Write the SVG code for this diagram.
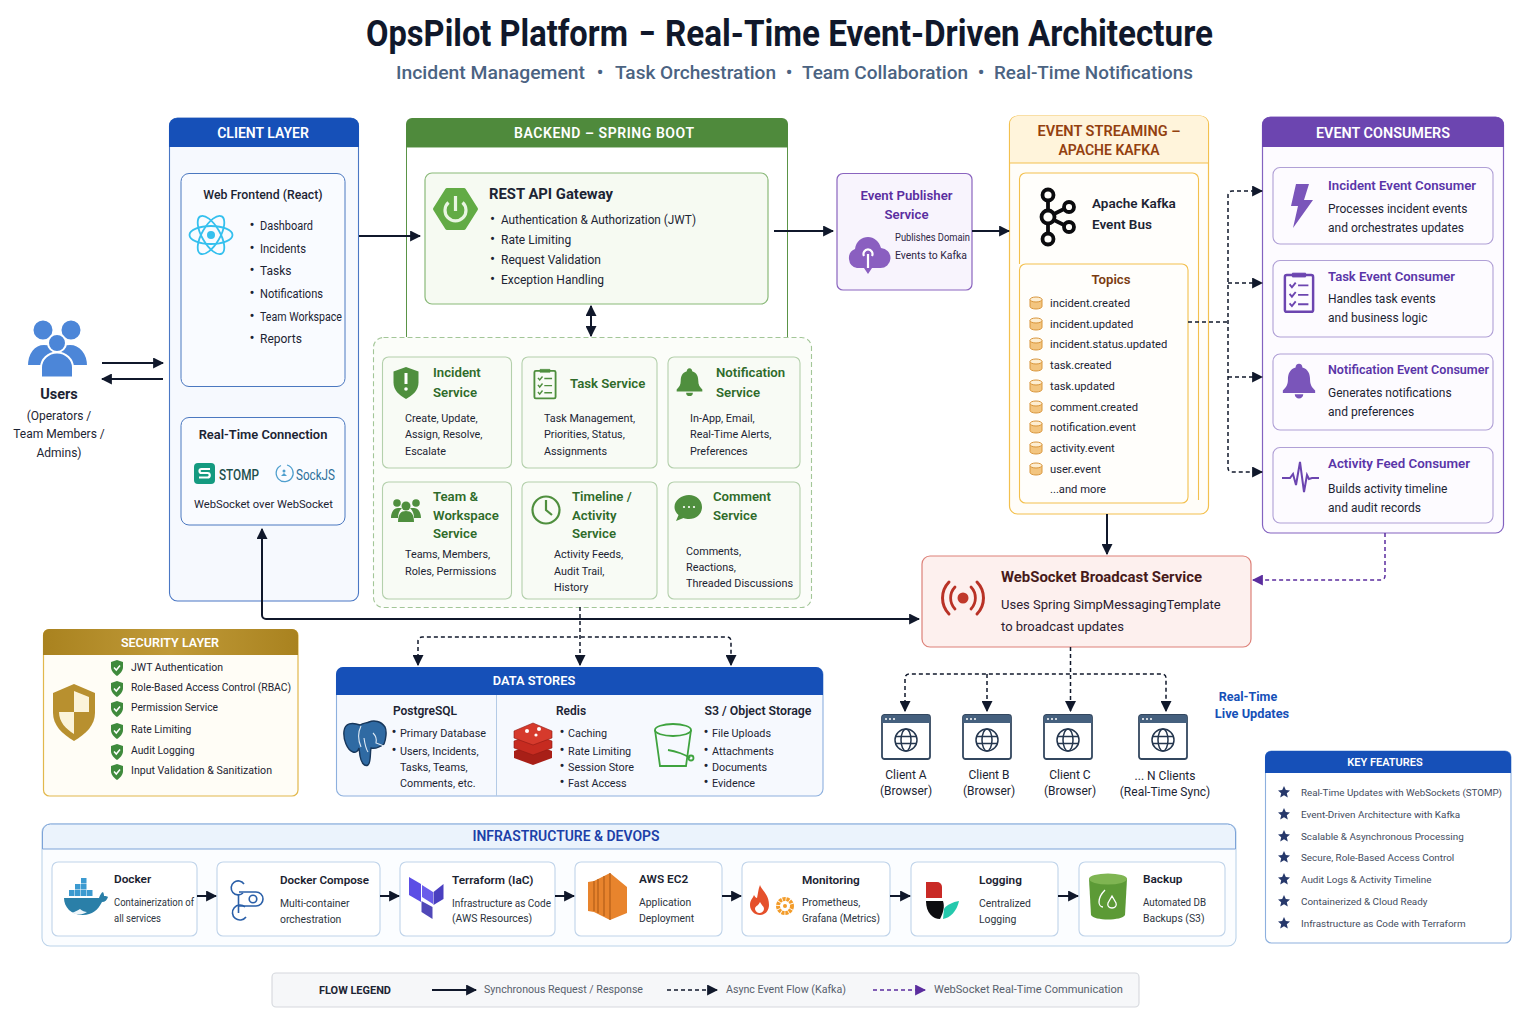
<svg xmlns="http://www.w3.org/2000/svg" xmlns:xlink="http://www.w3.org/1999/xlink" width="1536" height="1024" viewBox="0 0 1536 1024">
<style>
text{font-family:Roboto,"Liberation Sans",sans-serif;fill:#1c2433}
.hd{fill:#fff;font-weight:600;text-anchor:middle}
.c{text-anchor:middle}
.b{font-weight:700}
.m{font-weight:500}
.bu{font-size:15px}
.s12{font-size:12px}.s115{font-size:11.200px}.s11{font-size:10.800px}.s105{font-size:10.300px}
.g{fill:#2f6b2a;font-weight:600;font-size:13.200px}
.card{fill:#f8fbf5;stroke:#b4d0ac;stroke-width:1.100}
.pc{fill:#fdfbff;stroke:#b0a0d6;stroke-width:1.100}
.pt{fill:#5a35a8;font-weight:600;font-size:13.200px}
.ic{fill:#fff;stroke:#c0d4ea;stroke-width:1.100}
.it{font-weight:600;font-size:11.800px;fill:#1a2230}
.id{font-size:10.400px;fill:#2c3440}
.kf{font-size:9.900px;fill:#3f4b5e}
.line{fill:none;stroke:#10182b;stroke-width:2}
.dash{fill:none;stroke:#10182b;stroke-width:1.500;stroke-dasharray:4 3}
.pdash{fill:none;stroke:#5b2d9e;stroke-width:1.500;stroke-dasharray:4 3}
</style>
<defs>
<marker id="a" viewBox="0 0 10 10" refX="9" refY="5" markerUnits="userSpaceOnUse" markerWidth="11" markerHeight="11" orient="auto-start-reverse"><path d="M0 0L10 5L0 10z" fill="#10182b"/></marker>
<marker id="p" viewBox="0 0 10 10" refX="9" refY="5" markerUnits="userSpaceOnUse" markerWidth="11" markerHeight="11" orient="auto-start-reverse"><path d="M0 0L10 5L0 10z" fill="#5b2d9e"/></marker>
<linearGradient id="gold" x1="0" x2="1" y1="0" y2="0"><stop offset="0" stop-color="#a9821f"/><stop offset=".5" stop-color="#c09a38"/><stop offset="1" stop-color="#a9821f"/></linearGradient>
<symbol id="bell" viewBox="-20 -22 40 44" overflow="visible"><path fill="currentColor" d="M0-21c2.500 0 4 2 4 4.500 7 2 9 8 9 14 0 6 2 9 6 13v3h-38v-3c4-4 6-7 6-13 0-6 2-12 9-14 0-2.500 1.500-4.500 4-4.500zM-5 15h10a5 5 0 0 1-10 0z"/></symbol>
<symbol id="clip" viewBox="-17 -22 34 44" overflow="visible"><g fill="none" stroke="currentColor"><rect x="-15" y="-18" width="30" height="39" rx="2" stroke-width="2.600"/><path d="M-7-20h14v4h-14z" fill="currentColor" stroke-width="1"/><path stroke-width="2" d="M-10-8l2.500 3 4-5M-10 2l2.500 3 4-5M-10 12l2.500 3 4-5M-1-7h11M-1 3h11M-1 13h11"/></g></symbol>
<symbol id="cyl" viewBox="-7 -7 14 14" overflow="visible"><path d="M-6-3.500v7a6 2.500 0 0 0 12 0v-7z" fill="#f3c57f" stroke="#d9963c" stroke-width="1"/><ellipse cy="-3.500" rx="6" ry="2.500" fill="#fdeed2" stroke="#d9963c" stroke-width="1"/></symbol>
<symbol id="chk" viewBox="-7 -8 14 16" overflow="visible"><path fill="#3f8a3c" d="M0-8l6 2v5c0 4-3 7-6 9-3-2-6-5-6-9v-5z"/><path d="M-3-.500l2.300 2.500 3.700-4.500" fill="none" stroke="#fff" stroke-width="1.500"/></symbol>
<symbol id="star" viewBox="-6 -6 12 12" overflow="visible"><path fill="#26386b" d="M0-6l1.800 4 4.200.4-3.200 2.900 1 4.300L0 3.300-3.800 5.600l1-4.300L-6-1.600l4.200-.4z"/></symbol>
<symbol id="win" viewBox="0 0 50 46" overflow="visible"><rect x="1" y="1" width="48" height="44" rx="2.500" fill="#fff" stroke="#33475f" stroke-width="1.800"/><path d="M1 9V3.500A2.500 2.500 0 0 1 3.500 1h43A2.500 2.500 0 0 1 49 3.500V9z" fill="#45607e"/><g fill="#fff"><circle cx="5" cy="5" r="1"/><circle cx="9" cy="5" r="1"/><circle cx="13" cy="5" r="1"/></g><g fill="none" stroke="#24364e" stroke-width="1.500"><circle cx="25" cy="26" r="11"/><ellipse cx="25" cy="26" rx="5" ry="11"/><path d="M14.500 22.500h21M14.500 29.500h21"/></g></symbol>
</defs>
<rect width="1536" height="1024" fill="#fff"/>

<g id="title">
<text x="366" y="46" font-size="36" style="font-weight:700;fill:#10182b" textLength="262" lengthAdjust="spacingAndGlyphs">OpsPilot Platform</text>
<text x="639" y="46" font-size="36" style="font-weight:700;fill:#10182b" textLength="16" lengthAdjust="spacingAndGlyphs">–</text>
<text x="665" y="46" font-size="36" style="font-weight:700;fill:#10182b" textLength="548" lengthAdjust="spacingAndGlyphs">Real-Time Event-Driven Architecture</text>
<g font-size="19" style="font-weight:500">
<text x="396" y="79" font-size="19" style="fill:#4b6382" textLength="189" lengthAdjust="spacingAndGlyphs">Incident Management</text>
<text x="600" y="79" class="c" font-size="19" style="fill:#4b6382">•</text>
<text x="615" y="79" font-size="19" style="fill:#4b6382" textLength="161" lengthAdjust="spacingAndGlyphs">Task Orchestration</text>
<text x="789" y="79" class="c" font-size="19" style="fill:#4b6382">•</text>
<text x="802" y="79" font-size="19" style="fill:#4b6382" textLength="166" lengthAdjust="spacingAndGlyphs">Team Collaboration</text>
<text x="981" y="79" class="c" font-size="19" style="fill:#4b6382">•</text>
<text x="994" y="79" font-size="19" style="fill:#4b6382" textLength="199" lengthAdjust="spacingAndGlyphs">Real-Time Notifications</text>
</g>
</g>

<g id="users">
<g fill="#4c86d8" stroke="#fff" stroke-width="2">
<circle cx="43" cy="330" r="10.500"/><circle cx="71" cy="330" r="10.500"/>
<path d="M27 366c0-13 7-22 17-22s17 9 17 22zM53 366c0-13 7-22 17-22s18 9 18 22z"/>
<path d="M41 377.500v-10c0-8 7-15 16-15s16 7 16 15v10z"/>
<circle cx="57" cy="343" r="9"/>
</g>
<text x="59" y="399" class="c b" font-size="14.500">Users</text>
<text x="59" y="420" class="c s12">(Operators /</text>
<text x="59" y="438" class="c s12">Team Members /</text>
<text x="59" y="457" class="c s12">Admins)</text>
</g>

<g id="client-layer">
<rect x="169.500" y="118" width="189" height="483" rx="8" fill="#f6f9fe" stroke="#4a77c4" stroke-width="1.100"/>
<path d="M169 147V126a8 8 0 0 1 8-8h174a8 8 0 0 1 8 8v21z" fill="#1650b8"/>
<text x="263" y="137.500" class="hd" font-size="14">CLIENT LAYER</text>
<g id="web-frontend">
<rect x="181" y="173.500" width="164" height="213" rx="8" fill="#f9fbff" stroke="#4b78c0" stroke-width="1"/>
<text x="263" y="199" class="c m" font-size="12.300">Web Frontend (React)</text>
<g fill="none" stroke="#35c0ee" stroke-width="1.800"><ellipse cx="211" cy="235" rx="21.500" ry="9"/><ellipse cx="211" cy="235" rx="21.500" ry="9" transform="rotate(60 211 235)"/><ellipse cx="211" cy="235" rx="21.500" ry="9" transform="rotate(120 211 235)"/></g>
<circle cx="211" cy="235" r="4" fill="#35c0ee"/>
<text x="249.500" y="230" class="s12"><tspan class="bu">•</tspan><tspan x="260" textLength="53" lengthAdjust="spacingAndGlyphs">Dashboard</tspan></text>
<text x="249.500" y="253" class="s12"><tspan class="bu">•</tspan><tspan x="260" textLength="46" lengthAdjust="spacingAndGlyphs">Incidents</tspan></text>
<text x="249.500" y="275" class="s12"><tspan class="bu">•</tspan><tspan x="260">Tasks</tspan></text>
<text x="249.500" y="298" class="s12"><tspan class="bu">•</tspan><tspan x="260" textLength="63" lengthAdjust="spacingAndGlyphs">Notifications</tspan></text>
<text x="249.500" y="321" class="s12"><tspan class="bu">•</tspan><tspan x="260" textLength="82" lengthAdjust="spacingAndGlyphs">Team Workspace</tspan></text>
<text x="249.500" y="343" class="s12"><tspan class="bu">•</tspan><tspan x="260">Reports</tspan></text>
</g>
<g id="realtime-connection">
<rect x="181" y="417.500" width="164" height="107.500" rx="8" fill="#f9fbff" stroke="#4b78c0" stroke-width="1"/>
<text x="263" y="439" class="c" font-size="12.900" style="font-weight:600">Real-Time Connection</text>
<rect x="194" y="463" width="21" height="21" rx="4" fill="#149a80"/>
<path d="M210 469h-8.500a1.800 1.800 0 0 0 0 4h6a1.800 1.800 0 0 1 0 4.500H199" fill="none" stroke="#fff" stroke-width="2.200"/>
<text x="219" y="479.500" font-size="15" style="fill:#1d4f4c;font-weight:500" textLength="40" lengthAdjust="spacingAndGlyphs">STOMP</text>
<path d="M287 465a8.500 8.500 0 1 1-6 .5" fill="none" stroke="#4f9fce" stroke-width="1.300"/>
<circle cx="284" cy="471" r="1.500" fill="#4f9fce"/><path d="M281 476h6l-3-3z" fill="#4f9fce"/>
<text x="296" y="479.500" font-size="15" style="fill:#2c6f9a" textLength="39" lengthAdjust="spacingAndGlyphs">SockJS</text>
<text x="263.500" y="508" class="c s115">WebSocket over WebSocket</text>
</g>
</g>

<g id="backend">
<path d="M406.500 337V147h381v190" fill="#fff" stroke="#5a9346" stroke-width="1"/>
<path d="M406 147V124a6 6 0 0 1 6-6h370a6 6 0 0 1 6 6v23z" fill="#4f8a3c"/>
<text x="604" y="137.500" class="hd" font-size="14" textLength="180" lengthAdjust="spacing">BACKEND – SPRING BOOT</text>
<g id="rest-api-gateway">
<rect x="425" y="173" width="343" height="131" rx="7" fill="#f6faf2" stroke="#8ab979" stroke-width="1.200"/>
<path d="M447 190h17l12 19-12 19h-17l-12-19z" fill="#62ab45" stroke="#62ab45" stroke-width="4" stroke-linejoin="round"/>
<path d="M448.500 202.500a10.500 10.500 0 1 0 14 0" fill="none" stroke="#e9f5e2" stroke-width="3.200"/><path d="M455.500 196v15" stroke="#e9f5e2" stroke-width="3.200"/>
<text x="489" y="199" class="b" font-size="14.500" textLength="124" lengthAdjust="spacingAndGlyphs">REST API Gateway</text>
<text x="490" y="223.500" class="s12"><tspan class="bu">•</tspan><tspan x="501" textLength="195" lengthAdjust="spacingAndGlyphs">Authentication &amp; Authorization (JWT)</tspan></text>
<text x="490" y="243.500" class="s12"><tspan class="bu">•</tspan><tspan x="501">Rate Limiting</tspan></text>
<text x="490" y="263.500" class="s12"><tspan class="bu">•</tspan><tspan x="501">Request Validation</tspan></text>
<text x="490" y="283.500" class="s12"><tspan class="bu">•</tspan><tspan x="501">Exception Handling</tspan></text>
</g>
</g>

<g id="services">
<rect x="373.500" y="337.500" width="438" height="270" rx="10" fill="#fbfdf9" stroke="#a3c698" stroke-width="1.100" stroke-dasharray="5 3"/>
<g id="incident-service">
<rect x="382.500" y="357" width="129" height="111" rx="6" class="card"/>
<path d="M406 367l12.500 4.500v11c0 8-6 13-12.500 16.500-6.500-3.500-12.500-8.500-12.500-16.500v-11z" fill="#4f8f3e"/><path d="M406 373v11" stroke="#fff" stroke-width="3"/><circle cx="406" cy="389" r="1.800" fill="#fff"/>
<text x="433" y="377" class="g">Incident</text><text x="433" y="397" class="g">Service</text>
<text x="405" y="422" class="s11">Create, Update,</text><text x="405" y="438" class="s11">Assign, Resolve,</text><text x="405" y="455" class="s11">Escalate</text>
</g>
<g id="task-service">
<rect x="522" y="357" width="135" height="111" rx="6" class="card"/>
<use href="#clip" x="533" y="367" width="24" height="33" style="color:#4f8f3e"/>
<text x="570" y="388" class="g">Task Service</text>
<text x="544" y="422" class="s11">Task Management,</text><text x="544" y="438" class="s11">Priorities, Status,</text><text x="544" y="455" class="s11">Assignments</text>
</g>
<g id="notification-service">
<rect x="668" y="357" width="132" height="111" rx="6" class="card"/>
<use href="#bell" x="676" y="366" width="27" height="33" style="color:#4f8f3e"/>
<text x="716" y="377" class="g">Notification</text><text x="716" y="397" class="g">Service</text>
<text x="690" y="422" class="s11">In-App, Email,</text><text x="690" y="438" class="s11">Real-Time Alerts,</text><text x="690" y="455" class="s11">Preferences</text>
</g>
<g id="team-service">
<rect x="382.500" y="482" width="129" height="117" rx="6" class="card"/>
<g fill="#4f8f3e"><circle cx="397" cy="503" r="3.800"/><circle cx="416" cy="503" r="3.800"/><path d="M391 518c0-6 3-10 7-10h4c-3 3-4 6-4 10zM421 518c0-6-3-10-7-10h-4c3 3 4 6 4 10z"/><circle cx="406" cy="506" r="4.500"/><path d="M398 522c0-8 3-11 8-11s8 3 8 11z"/></g>
<text x="433" y="501" class="g">Team &amp;</text><text x="433" y="520" class="g">Workspace</text><text x="433" y="538" class="g">Service</text>
<text x="405" y="558" class="s11">Teams, Members,</text><text x="405" y="575" class="s11">Roles, Permissions</text>
</g>
<g id="timeline-service">
<rect x="522" y="482" width="135" height="117" rx="6" class="card"/>
<circle cx="546" cy="510" r="13.500" fill="none" stroke="#4f8f3e" stroke-width="2.200"/><path d="M546 500v10l6 5" fill="none" stroke="#4f8f3e" stroke-width="2.200"/>
<text x="572" y="501" class="g">Timeline /</text><text x="572" y="520" class="g">Activity</text><text x="572" y="538" class="g">Service</text>
<text x="554" y="558" class="s11">Activity Feeds,</text><text x="554" y="575" class="s11">Audit Trail,</text><text x="554" y="591" class="s11">History</text>
</g>
<g id="comment-service">
<rect x="668" y="482" width="132" height="117" rx="6" class="card"/>
<path d="M689 495c7.500 0 13 5 13 12s-5.500 12-13 12c-2 0-4-.300-5.500-1l-7.500 3 2.500-6c-2.500-2-4-4.800-4-8 0-7 7-12 14.500-12z" fill="#4f8f3e"/>
<g fill="#fff"><circle cx="684" cy="507" r="1.100"/><circle cx="689" cy="507" r="1.100"/><circle cx="694" cy="507" r="1.100"/></g>
<text x="713" y="501" class="g">Comment</text><text x="713" y="520" class="g">Service</text>
<text x="686" y="555" class="s11">Comments,</text><text x="686" y="571" class="s11">Reactions,</text><text x="686" y="587" class="s11" textLength="107" lengthAdjust="spacingAndGlyphs">Threaded Discussions</text>
</g>
</g>

<g id="event-publisher">
<rect x="837" y="173.500" width="135" height="116.500" rx="6" fill="#f8f4fd" stroke="#8a64bf" stroke-width="1.200"/>
<text x="906.500" y="200" class="c" font-size="13.200" style="fill:#5a2ea0;font-weight:600">Event Publisher</text>
<text x="906.500" y="219" class="c" font-size="13.200" style="fill:#5a2ea0;font-weight:600">Service</text>
<path d="M857 268a10 10 0 0 1-2-19c1-8 7-12 13-12s11 4 13 11a10 10 0 0 1-1 20h-8l-4 6-4-6z" fill="#8a5fc0"/><path d="M868 268v-14m-4 2a4.500 4.500 0 1 1 8 0" fill="none" stroke="#fff" stroke-width="2.200"/>
<text x="895" y="241" font-size="11" textLength="75" lengthAdjust="spacingAndGlyphs" style="fill:#2c2444">Publishes Domain</text>
<text x="895" y="259" font-size="11" textLength="72" lengthAdjust="spacingAndGlyphs" style="fill:#2c2444">Events to Kafka</text>
</g>

<g id="kafka">
<rect x="1009.500" y="116" width="199" height="398" rx="8" fill="#fffdf8" stroke="#f3c04e" stroke-width="1.200"/>
<path d="M1010 163V124a8 8 0 0 1 8-8h182a8 8 0 0 1 8 8v39z" fill="#fff4db"/>
<path d="M1010 163h198" stroke="#f3c04e" stroke-width="1.100"/>
<text x="1109" y="136" class="c" font-size="14" style="fill:#93400f;font-weight:600" textLength="143" lengthAdjust="spacingAndGlyphs">EVENT STREAMING –</text>
<text x="1109" y="155" class="c" font-size="14" style="fill:#93400f;font-weight:600">APACHE KAFKA</text>
<path d="M1019.500 264V179a6 6 0 0 1 6-6h167a6 6 0 0 1 6 6v321" fill="#fffefb" stroke="#f3c04e" stroke-width="1.100"/>
<g id="kafka-bus">
<g fill="none" stroke="#0b0b0e" stroke-width="3.800"><circle cx="1048" cy="195" r="5.500"/><circle cx="1048" cy="217" r="6.500"/><circle cx="1048" cy="239" r="5.500"/><circle cx="1069" cy="207" r="5"/><circle cx="1069" cy="227" r="5"/><path d="M1048 201v10M1048 224v9M1054 214l10-5M1054 220l10 5"/></g>
<text x="1092" y="208" class="m" font-size="13.500" style="font-weight:600">Apache Kafka</text>
<text x="1092" y="229" class="m" font-size="13.500" style="font-weight:600">Event Bus</text>
</g>
<g id="topics">
<rect x="1019.500" y="264" width="168.500" height="239" rx="6" fill="#fffefb" stroke="#f3c04e" stroke-width="1.100"/>
<text x="1111" y="284" class="c" font-size="13.200" style="fill:#7a3b10;font-weight:600">Topics</text>
<use href="#cyl" x="1029" y="296" width="14" height="14"/><text x="1050" y="307" class="s115">incident.created</text>
<use href="#cyl" x="1029" y="317" width="14" height="14"/><text x="1050" y="328" class="s115">incident.updated</text>
<use href="#cyl" x="1029" y="337" width="14" height="14"/><text x="1050" y="348" class="s115">incident.status.updated</text>
<use href="#cyl" x="1029" y="358" width="14" height="14"/><text x="1050" y="369" class="s115">task.created</text>
<use href="#cyl" x="1029" y="379" width="14" height="14"/><text x="1050" y="390" class="s115">task.updated</text>
<use href="#cyl" x="1029" y="400" width="14" height="14"/><text x="1050" y="411" class="s115">comment.created</text>
<use href="#cyl" x="1029" y="420" width="14" height="14"/><text x="1050" y="431" class="s115">notification.event</text>
<use href="#cyl" x="1029" y="441" width="14" height="14"/><text x="1050" y="452" class="s115">activity.event</text>
<use href="#cyl" x="1029" y="462" width="14" height="14"/><text x="1050" y="473" class="s115">user.event</text>
<text x="1050" y="493" class="s115">...and more</text>
</g>
</g>

<g id="event-consumers">
<rect x="1262.500" y="117" width="241" height="416" rx="8" fill="#fdfbff" stroke="#8362c0" stroke-width="1.200"/>
<path d="M1262 147V125a8 8 0 0 1 8-8h226a8 8 0 0 1 8 8v22z" fill="#6c45b0"/>
<text x="1383" y="137.500" class="hd" font-size="14" textLength="134" lengthAdjust="spacingAndGlyphs">EVENT CONSUMERS</text>
<g id="incident-consumer">
<rect x="1273" y="167.500" width="220" height="76.500" rx="7" class="pc"/>
<path d="M1296 184h13l-5 16h9l-20 28 5-22h-7z" fill="#7a55ba"/>
<text x="1328" y="190" class="pt" textLength="148" lengthAdjust="spacingAndGlyphs">Incident Event Consumer</text>
<text x="1328" y="213" class="s12">Processes incident events</text><text x="1328" y="232" class="s12">and orchestrates updates</text>
</g>
<g id="task-consumer">
<rect x="1273" y="260.500" width="220" height="76.500" rx="7" class="pc"/>
<use href="#clip" x="1283" y="268" width="32" height="48" style="color:#6c45b0"/>
<text x="1328" y="281" class="pt" textLength="127" lengthAdjust="spacingAndGlyphs">Task Event Consumer</text>
<text x="1328" y="303" class="s12">Handles task events</text><text x="1328" y="322" class="s12">and business logic</text>
</g>
<g id="notification-consumer">
<rect x="1273" y="354" width="220" height="76" rx="7" class="pc"/>
<use href="#bell" x="1282" y="361" width="34" height="41" style="color:#7a55ba"/>
<text x="1328" y="374" class="pt" textLength="161" lengthAdjust="spacingAndGlyphs">Notification Event Consumer</text>
<text x="1328" y="397" class="s12">Generates notifications</text><text x="1328" y="416" class="s12">and preferences</text>
</g>
<g id="activity-consumer">
<rect x="1273" y="447.500" width="220" height="75.500" rx="7" class="pc"/>
<path d="M1282 478h8l3-4 3 11 4-23 4 30 3-17 2 4 3-1h7" fill="none" stroke="#6c45b0" stroke-width="2"/>
<text x="1328" y="468" class="pt" textLength="142" lengthAdjust="spacingAndGlyphs">Activity Feed Consumer</text>
<text x="1328" y="493" class="s12">Builds activity timeline</text><text x="1328" y="512" class="s12">and audit records</text>
</g>
</g>

<g id="websocket-broadcast">
<rect x="922" y="556" width="329" height="91" rx="8" fill="#fdf0ee" stroke="#dd8078" stroke-width="1.200"/>
<circle cx="963" cy="598" r="5.500" fill="#c0392b"/>
<g fill="none" stroke="#b93226" stroke-width="2.800" stroke-linecap="round"><path d="M955 587a16 16 0 0 0 0 22M971 587a16 16 0 0 1 0 22"/><path stroke-width="3" d="M949 582a23 23 0 0 0 0 32M977 582a23 23 0 0 1 0 32"/></g>
<text x="1001" y="582" class="b" font-size="14.500" style="fill:#471a1a" textLength="201" lengthAdjust="spacingAndGlyphs">WebSocket Broadcast Service</text>
<text x="1001" y="609" font-size="13" style="fill:#2a2030">Uses Spring SimpMessagingTemplate</text>
<text x="1001" y="631" font-size="13" style="fill:#2a2030">to broadcast updates</text>
</g>

<g id="security-layer">
<rect x="43.500" y="629.500" width="254.500" height="166.500" rx="6" fill="#fffdf6" stroke="#e2b84c" stroke-width="1.200"/>
<path d="M43 655V635a6 6 0 0 1 6-6h243a6 6 0 0 1 6 6v20z" fill="url(#gold)"/>
<text x="170" y="647" class="hd" font-size="12.500">SECURITY LAYER</text>
<path d="M74 684l21 9v20c0 12-9 21-21 28-12-7-21-16-21-28v-20z" fill="#b8902f"/>
<path d="M74 691v21h15v-15zM74 712v22c-8-5-15-12-15-22z" fill="#fbf3d9"/>
<use href="#chk" x="110" y="660" width="14" height="16"/><text x="131" y="671" class="s105" textLength="92" lengthAdjust="spacingAndGlyphs">JWT Authentication</text>
<use href="#chk" x="110" y="681" width="14" height="16"/><text x="131" y="691" class="s105" textLength="160" lengthAdjust="spacingAndGlyphs">Role-Based Access Control (RBAC)</text>
<use href="#chk" x="110" y="701" width="14" height="16"/><text x="131" y="711" class="s105" textLength="87" lengthAdjust="spacingAndGlyphs">Permission Service</text>
<use href="#chk" x="110" y="723" width="14" height="16"/><text x="131" y="733" class="s105">Rate Limiting</text>
<use href="#chk" x="110" y="744" width="14" height="16"/><text x="131" y="754" class="s105">Audit Logging</text>
<use href="#chk" x="110" y="764" width="14" height="16"/><text x="131" y="774" class="s105" textLength="141" lengthAdjust="spacingAndGlyphs">Input Validation &amp; Sanitization</text>
</g>

<g id="data-stores">
<rect x="336.500" y="667.500" width="486.500" height="128.500" rx="7" fill="#f6f9fe" stroke="#8db0de" stroke-width="1.100"/>
<path d="M336 695V674a7 7 0 0 1 7-7h473a7 7 0 0 1 7 7v21z" fill="#1650b8"/>
<text x="534" y="685" class="hd" font-size="12.800">DATA STORES</text>
<path d="M496.500 695v101" stroke="#b4cbe6" stroke-width="1"/>
<g id="postgresql">
<path d="M360 725c-8-3-15-2-16 6-1 8 3 19 9 21 3 1 5-1 6-4l1 8c1 6 4 11 8 9 3-2 2-12 3-17 4 1 9-1 13-4 2-5 3-13 1-17-4-6-11-7-16-5-2 1-6 1-9 3z" fill="#2f6aa3" stroke="#17375b" stroke-width="1.400"/>
<path d="M361 726c-3 6-3 14 0 21M364 738c1 7 2 11 4 14M373 733c3 3 4 6 3 10l8 3" fill="none" stroke="#dfeaf5" stroke-width="1.100"/>
<text x="425" y="715" class="c" font-size="12" style="font-weight:600">PostgreSQL</text>
<text x="391.500" y="737" class="s11"><tspan class="bu">•</tspan><tspan x="400" textLength="86" lengthAdjust="spacingAndGlyphs">Primary Database</tspan></text>
<text x="391.500" y="755" class="s11"><tspan class="bu">•</tspan><tspan x="400">Users, Incidents,</tspan></text>
<text x="400" y="771" class="s11">Tasks, Teams,</text>
<text x="400" y="787" class="s11">Comments, etc.</text>
</g>
<g id="redis">
<path d="M514 751l19-7 19 7v7l-19 7-19-7z" fill="#a81f17"/><path d="M514 741l19-7 19 7v7l-19 7-19-7z" fill="#c62b20" stroke="#8f1a13" stroke-width=".6"/><path d="M514 731l19-8 19 8v7l-19 7-19-7z" fill="#d63a2c" stroke="#8f1a13" stroke-width=".6"/>
<g fill="#fff"><circle cx="527" cy="731" r="2"/><circle cx="539" cy="729" r="2"/><circle cx="536" cy="735" r="1.600"/></g>
<text x="571" y="715" class="c" font-size="12" style="font-weight:600">Redis</text>
<text x="559.500" y="737" class="s11"><tspan class="bu">•</tspan><tspan x="568">Caching</tspan></text>
<text x="559.500" y="755" class="s11"><tspan class="bu">•</tspan><tspan x="568">Rate Limiting</tspan></text>
<text x="559.500" y="771" class="s11"><tspan class="bu">•</tspan><tspan x="568">Session Store</tspan></text>
<text x="559.500" y="787" class="s11"><tspan class="bu">•</tspan><tspan x="568">Fast Access</tspan></text>
</g>
<g id="s3">
<g fill="none" stroke="#3fa33f" stroke-width="1.800"><ellipse cx="673" cy="730" rx="18" ry="6"/><path d="M655 730l5 36h26l5-36"/><path d="M668 750c8 1 18 5 22 8"/><circle cx="691" cy="758" r="2.500"/></g>
<text x="758" y="715" class="c" font-size="12.300" style="font-weight:600">S3 / Object Storage</text>
<text x="703.500" y="737" class="s11"><tspan class="bu">•</tspan><tspan x="712">File Uploads</tspan></text>
<text x="703.500" y="755" class="s11"><tspan class="bu">•</tspan><tspan x="712">Attachments</tspan></text>
<text x="703.500" y="771" class="s11"><tspan class="bu">•</tspan><tspan x="712">Documents</tspan></text>
<text x="703.500" y="787" class="s11"><tspan class="bu">•</tspan><tspan x="712">Evidence</tspan></text>
</g>
</g>

<g id="clients">
<g id="client-a"><use href="#win" x="881" y="714" width="50" height="46"/><text x="906" y="779" class="c s12">Client A</text><text x="906" y="795" class="c s12">(Browser)</text></g>
<g id="client-b"><use href="#win" x="962" y="714" width="50" height="46"/><text x="989" y="779" class="c s12">Client B</text><text x="989" y="795" class="c s12">(Browser)</text></g>
<g id="client-c"><use href="#win" x="1043" y="714" width="50" height="46"/><text x="1070" y="779" class="c s12">Client C</text><text x="1070" y="795" class="c s12">(Browser)</text></g>
<g id="client-n"><use href="#win" x="1138" y="714" width="50" height="46"/><text x="1165" y="780" class="c s12">... N Clients</text><text x="1165" y="796" class="c s12">(Real-Time Sync)</text></g>
<text x="1248" y="701" class="c b" font-size="12.500" style="fill:#1650b8">Real-Time</text>
<text x="1252" y="718" class="c b" font-size="12.800" style="fill:#1650b8">Live Updates</text>
</g>

<g id="key-features">
<rect x="1265.500" y="751" width="245.500" height="192" rx="6" fill="#fff" stroke="#8db0de" stroke-width="1.100"/>
<path d="M1265 773V757a6 6 0 0 1 6-6h234a6 6 0 0 1 6 6v16z" fill="#1650b8"/>
<text x="1385" y="766" class="hd" font-size="11">KEY FEATURES</text>
<use href="#star" x="1278" y="786" width="12" height="12"/><text x="1301" y="796" class="kf" textLength="201" lengthAdjust="spacingAndGlyphs">Real-Time Updates with WebSockets (STOMP)</text>
<use href="#star" x="1278" y="808" width="12" height="12"/><text x="1301" y="818" class="kf">Event-Driven Architecture with Kafka</text>
<use href="#star" x="1278" y="830" width="12" height="12"/><text x="1301" y="840" class="kf">Scalable &amp; Asynchronous Processing</text>
<use href="#star" x="1278" y="851" width="12" height="12"/><text x="1301" y="861" class="kf">Secure, Role-Based Access Control</text>
<use href="#star" x="1278" y="873" width="12" height="12"/><text x="1301" y="883" class="kf">Audit Logs &amp; Activity Timeline</text>
<use href="#star" x="1278" y="895" width="12" height="12"/><text x="1301" y="905" class="kf">Containerized &amp; Cloud Ready</text>
<use href="#star" x="1278" y="917" width="12" height="12"/><text x="1301" y="927" class="kf">Infrastructure as Code with Terraform</text>
</g>

<g id="infrastructure">
<rect x="42" y="824" width="1194" height="122" rx="8" fill="#fbfdff" stroke="#bcd3ea" stroke-width="1.100"/>
<path d="M42.500 849V832a8 8 0 0 1 8-8h1177a8 8 0 0 1 8 8v17z" fill="#ebf3fc" stroke="#7ca3d8" stroke-width="1"/>
<text x="566" y="841" class="c" font-size="13.800" style="fill:#1c3fa8;font-weight:600" textLength="187" lengthAdjust="spacingAndGlyphs">INFRASTRUCTURE &amp; DEVOPS</text>
<g id="docker">
<rect x="52" y="862" width="145" height="74" rx="6" class="ic"/>
<path d="M64 898h35c1-3 3-6 4-6 1 2 1 3 1 4 2 0 3 0 4 1-1 3-3 5-6 5-4 8-10 13-19 13-12 0-19-8-19-17z" fill="#2a7fa8"/>
<path d="M72 913c3-1 6-3 8-4 2 2 5 3 7 3-4 3-10 3-15 1z" fill="#eef6fb"/>
<g fill="#3c9ad0"><rect x="69" y="890" width="5.500" height="6"/><rect x="75" y="890" width="5.500" height="6"/><rect x="81" y="890" width="5.500" height="6"/><rect x="87" y="890" width="5.500" height="6"/><rect x="75" y="884" width="5.500" height="5.500"/><rect x="81" y="884" width="5.500" height="5.500"/><rect x="81" y="878" width="5.500" height="5.500"/></g>
<text x="114" y="883" class="it">Docker</text>
<text x="114" y="906" class="id" textLength="80" lengthAdjust="spacingAndGlyphs">Containerization of</text><text x="114" y="922" class="id" textLength="47" lengthAdjust="spacingAndGlyphs">all services</text>
</g>
<g id="docker-compose">
<rect x="217" y="862" width="163" height="74" rx="6" class="ic"/>
<g fill="none" stroke="#2a5fa8" stroke-width="1.600"><path d="M244 884a7 7 0 1 0-1 9"/><path d="M245 907a7.500 7.500 0 1 0 1 10"/><path d="M238.500 895v18"/><path d="M239 892h17a7 7 0 0 1 0 14h-17"/><circle cx="253" cy="899" r="3.800"/></g>
<text x="280" y="884" class="it" textLength="89" lengthAdjust="spacingAndGlyphs">Docker Compose</text>
<text x="280" y="907" class="id">Multi-container</text><text x="280" y="923" class="id">orchestration</text>
</g>
<g id="terraform">
<rect x="400" y="862" width="155" height="74" rx="6" class="ic"/>
<path d="M409 877l12 7v18l-12-7z" fill="#5c4ee5"/><path d="M422 885l11 7v12l-11-7z" fill="#6a5cea"/><path d="M433.500 892l10-8v15l-10 6z" fill="#4a3fc0"/><path d="M421.500 901l11 6v12l-11-7z" fill="#5048b8"/>
<text x="452" y="884" class="it">Terraform (IaC)</text>
<text x="452" y="907" class="id" textLength="99" lengthAdjust="spacingAndGlyphs">Infrastructure as Code</text><text x="452" y="922" class="id">(AWS Resources)</text>
</g>
<g id="aws-ec2">
<rect x="575" y="862" width="147" height="74" rx="6" class="ic"/>
<path d="M588 882l6-1 4-2 6-3 6-3 17 14v26l-17 7-6-3-6-3-4-2-6-1z" fill="#e8842d"/>
<path d="M594 881v30M598 879v34M604 876v40M610 873v47" stroke="#a95715" stroke-width="1"/>
<text x="639" y="883" class="it">AWS EC2</text>
<text x="639" y="906" class="id">Application</text><text x="639" y="922" class="id">Deployment</text>
</g>
<g id="monitoring">
<rect x="742" y="862" width="148" height="74" rx="6" class="ic"/>
<path d="M760 885c2 6 9 9 9 20 0 6-4 10-9 10s-10-4-10-10c0-5 3-7 4-10 1 2 2 3 3 3 1-4 1-8 3-13z" fill="#e5502b"/><path d="M755 908c2-3 3-2 5-6 2 4 4 4 4 7a4.500 4.500 0 0 1-9-1z" fill="#fff"/>
<circle cx="785" cy="906" r="7" fill="none" stroke="#f39c2a" stroke-width="4" stroke-dasharray="3 .8"/><circle cx="785" cy="906" r="2" fill="#f39c2a"/>
<text x="802" y="884" class="it">Monitoring</text>
<text x="802" y="906" class="id">Prometheus,</text><text x="802" y="922" class="id" textLength="78" lengthAdjust="spacingAndGlyphs">Grafana (Metrics)</text>
</g>
<g id="logging">
<rect x="911" y="862" width="147" height="74" rx="6" class="ic"/>
<path d="M926 882h11a5 5 0 0 1 5 5v11h-16z" fill="#c92a26"/>
<path d="M926 901h17c2 6 0 12-3 18-7 0-14-6-14-18z" fill="#0d0d10"/>
<path d="M943 919c7-1 14-8 16-18-6 1-13 4-15 8z" fill="#25c9ad"/>
<text x="979" y="884" class="it">Logging</text>
<text x="979" y="907" class="id">Centralized</text><text x="979" y="923" class="id">Logging</text>
</g>
<g id="backup">
<rect x="1079" y="862" width="146" height="74" rx="6" class="ic"/>
<path d="M1089 879c4-6 34-6 38 0l-2 36c-3 6-31 6-34 0z" fill="#5c9a36"/><ellipse cx="1108" cy="879" rx="19" ry="5.500" fill="#7fb552"/>
<g fill="none" stroke="#fff" stroke-width="1.300"><path d="M1105 890c-2 2-6 6-6 12 0 3 2 5 4 5M1112 896l-4 7c-1 3 1 5 4 5s5-2 4-5z"/></g>
<text x="1143" y="883" class="it">Backup</text>
<text x="1143" y="906" class="id" textLength="63" lengthAdjust="spacingAndGlyphs">Automated DB</text><text x="1143" y="922" class="id">Backups (S3)</text>
</g>
</g>

<g id="legend">
<rect x="272" y="973" width="867" height="34" rx="4" fill="#f6f7f9" stroke="#d5d8dd" stroke-width="1.100"/>
<text x="319" y="994" class="b" font-size="10.500" textLength="72" lengthAdjust="spacingAndGlyphs">FLOW LEGEND</text>
<path d="M432 990h44" class="line" marker-end="url(#a)"/>
<text x="484" y="993" class="s11" style="fill:#56606c" textLength="159" lengthAdjust="spacingAndGlyphs">Synchronous Request / Response</text>
<path d="M667 990h50" class="dash" marker-end="url(#a)"/>
<text x="726" y="993" class="s11" style="fill:#56606c" textLength="120" lengthAdjust="spacingAndGlyphs">Async Event Flow (Kafka)</text>
<path d="M873 990h52" class="pdash" marker-end="url(#p)"/>
<text x="934" y="993" class="s11" style="fill:#56606c" textLength="189" lengthAdjust="spacingAndGlyphs">WebSocket Real-Time Communication</text>
</g>

<g id="connectors">
<path d="M102 363h61" class="line" marker-end="url(#a)"/>
<path d="M163 379h-61" class="line" marker-end="url(#a)"/>
<path d="M359 236h61" class="line" marker-end="url(#a)"/>
<path d="M774 231h59" class="line" marker-end="url(#a)"/>
<path d="M972 231h37" class="line" marker-end="url(#a)"/>
<path d="M591 306v30" class="line" marker-start="url(#a)" marker-end="url(#a)"/>
<path d="M1107 514v40" class="line" marker-end="url(#a)"/>
<path d="M262 529v86a4 4 0 0 0 4 4h653" class="line" marker-start="url(#a)" marker-end="url(#a)"/>
<path d="M580 607v58" class="dash" marker-end="url(#a)"/>
<path d="M418 665v-24a4 4 0 0 1 4-4h305a4 4 0 0 1 4 4v24" class="dash" marker-start="url(#a)" marker-end="url(#a)"/>
<path d="M1188 322h40" class="dash"/>
<path d="M1262 191h-30a4 4 0 0 0-4 4v273a4 4 0 0 0 4 4h30" class="dash" marker-start="url(#a)" marker-end="url(#a)"/>
<path d="M1228 283h34" class="dash" marker-end="url(#a)"/>
<path d="M1228 377h34" class="dash" marker-end="url(#a)"/>
<path d="M1385 533v43a4 4 0 0 1-4 4h-128" class="pdash" marker-end="url(#p)"/>
<path d="M1070.500 647v64" class="dash" marker-end="url(#a)"/>
<path d="M905 711v-33a4 4 0 0 1 4-4h253a4 4 0 0 1 4 4v33" class="dash" marker-start="url(#a)" marker-end="url(#a)"/>
<path d="M987 674v37" class="dash" marker-end="url(#a)"/>
<path d="M197 896h19" class="line" marker-end="url(#a)"/>
<path d="M380 896h19" class="line" marker-end="url(#a)"/>
<path d="M555 896h19" class="line" marker-end="url(#a)"/>
<path d="M722 896h19" class="line" marker-end="url(#a)"/>
<path d="M890 896h20" class="line" marker-end="url(#a)"/>
<path d="M1058 896h20" class="line" marker-end="url(#a)"/>
</g>
</svg>
